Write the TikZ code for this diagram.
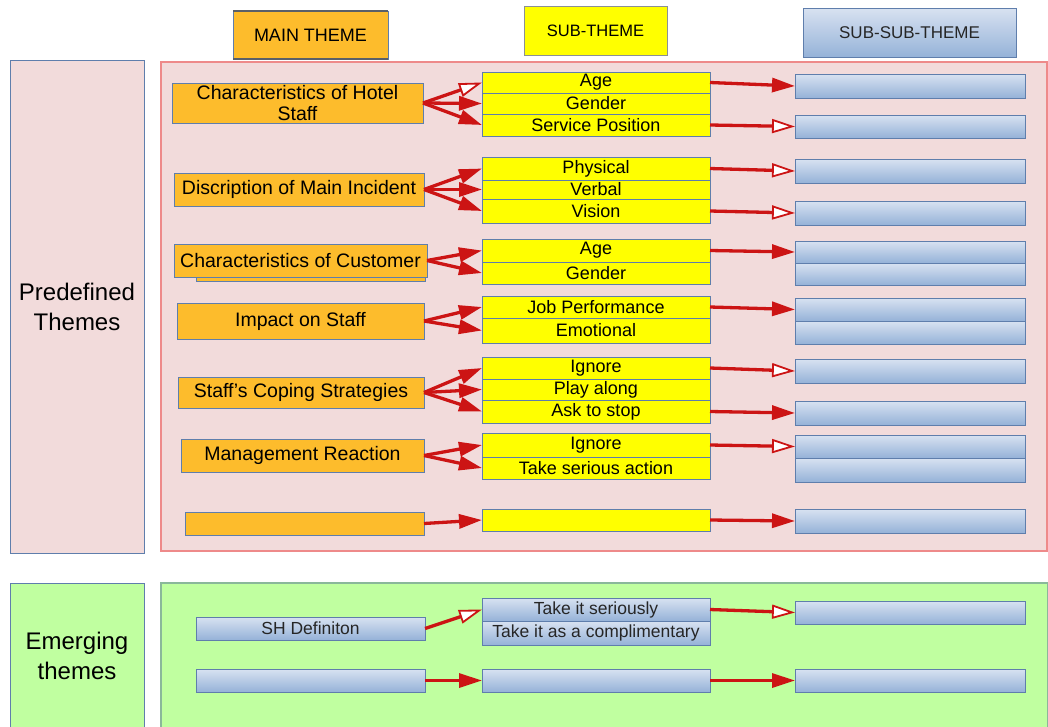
\documentclass[tikz,border=0pt]{standalone}
\usepackage{fontspec}
\setmainfont{Liberation Sans}
\usetikzlibrary{arrows.meta}

\definecolor{themeorange}{HTML}{FDBC2C}
\definecolor{themeyellow}{HTML}{FFFF00}
\definecolor{pinkbg}{HTML}{F2DBDB}
\definecolor{pinkedge}{HTML}{EE8A8A}
\definecolor{greenbg}{HTML}{C0FFA0}
\definecolor{greenedge}{HTML}{8AB89A}
\definecolor{edgeblue}{HTML}{5F7EAC}
\definecolor{blueTop}{HTML}{D8E2F1}
\definecolor{blueBot}{HTML}{95B2D8}
\definecolor{arrowred}{HTML}{CC1414}
\definecolor{hdrgray}{HTML}{5A6068}

\begin{document}
\begin{tikzpicture}[x=1pt,y=-1pt,
  every node/.style={inner sep=0pt, outer sep=0pt, align=center},
  panel/.style={draw=edgeblue, line width=1pt},
  mainbox/.style={fill=themeorange, draw=edgeblue, line width=1pt,
    font=\fontsize{19.5}{21}\selectfont},
  subbox/.style={fill=themeyellow, draw=edgeblue, line width=0.9pt,
    font=\fontsize{18}{20}\selectfont},
  bluebox/.style={top color=blueTop, bottom color=blueBot, draw=edgeblue,
    line width=1pt, font=\fontsize{17.5}{20}\selectfont, text=black!85},
  link/.style={draw=arrowred, line width=3.3pt,
    -{Triangle[length=23pt,width=14pt]}},
  openlink/.style={draw=arrowred, line width=3.3pt,
    -{Triangle[length=23pt,width=14pt,fill=white,line width=1.8pt]}}
]
\useasboundingbox (0,0) rectangle (1048,726);
\fill[white] (0,0) rectangle (1048,726);

% column headers
\node[fill=themeorange, draw=edgeblue, line width=1pt,
  minimum width=155, minimum height=48, font=\fontsize{18}{20}\selectfont]
  (hmain) at (310.5,35) {MAIN THEME};
\draw[hdrgray, line width=2pt] (hmain.north west) -- (hmain.north east)
  (hmain.south west) -- (hmain.south east);
\node[fill=themeyellow, draw=hdrgray!70, line width=1pt,
  minimum width=143, minimum height=49, font=\fontsize{16.5}{19}\selectfont]
  (hsub) at (595.5,30.5) {SUB-THEME};
\node[bluebox, minimum width=213, minimum height=49,
  font=\fontsize{17}{19}\selectfont]
  (hsubsub) at (909.5,32.5) {SUB-SUB-THEME};

% row panels
\node[panel, fill=pinkbg, minimum width=134, minimum height=493,
  font=\fontsize{24}{30}\selectfont] (pre) at (77,306.5) {Predefined\\Themes};
\node[panel, fill=greenbg, minimum width=134, minimum height=145,
  font=\fontsize{24}{30}\selectfont] (emg) at (77,655.5) {Emerging\\themes};
\node[fill=pinkbg, draw=pinkedge, line width=1.2pt,
  minimum width=886, minimum height=489] (prearea) at (604,306.5) {};
\node[fill=greenbg, draw=greenedge, line width=1.2pt,
  minimum width=887, minimum height=145] (emgarea) at (604.5,655.5) {};

% main themes
\node[mainbox, minimum width=251, minimum height=40] (m1) at (297.5,103)
  {Characteristics of Hotel\\Staff};
\node[mainbox, minimum width=250, minimum height=33] (m2) at (299,189.5)
  {Discription of Main Incident};
\node[mainbox, minimum width=229, minimum height=31] (m3b) at (310.5,265.5) {};
\node[mainbox, minimum width=253, minimum height=33] (m3) at (300.5,260.5)
  {Characteristics of Customer};
\node[mainbox, minimum width=247, minimum height=36] (m4) at (300.5,321)
  {Impact on Staff};
\node[mainbox, minimum width=246, minimum height=31] (m5) at (301,392.5)
  {Staff's Coping Strategies};
\node[mainbox, minimum width=243, minimum height=33] (m6) at (302.5,455.5)
  {Management Reaction};
\node[mainbox, minimum width=239, minimum height=23] (m7) at (304.5,523.5) {};

% sub-themes
\begin{scope}[every node/.append style={subbox, minimum width=228}]
\node[minimum height=21] (a1) at (596,82.5) {Age};
\node[minimum height=21] (a2) at (596,103.5) {Gender};
\node[minimum height=22] (a3) at (596,125) {Service Position};
\node[minimum height=23] (b1) at (596,168.5) {Physical};
\node[minimum height=19] (b2) at (596,189.5) {Verbal};
\node[minimum height=24] (b3) at (596,211) {Vision};
\node[minimum height=23] (c1) at (596,250.5) {Age};
\node[minimum height=22] (c2) at (596,273) {Gender};
\node[minimum height=22] (d1) at (596,307) {Job Performance};
\node[minimum height=25] (d2) at (596,330.5) {Emotional};
\node[minimum height=22] (e1) at (596,368) {Ignore};
\node[minimum height=21] (e2) at (596,389.5) {Play along};
\node[minimum height=23] (e3) at (596,411.5) {Ask to stop};
\node[minimum height=24] (f1) at (596,445) {Ignore};
\node[minimum height=22] (f2) at (596,468) {Take serious action};
\node[minimum height=22] (g1) at (596,520) {};
\end{scope}

% sub-sub-themes
\begin{scope}[every node/.append style={bluebox, minimum width=230}]
\node[minimum height=24] (s1) at (910,86) {};
\node[minimum height=23] (s2) at (910,126.5) {};
\node[minimum height=24] (s3) at (910,171) {};
\node[minimum height=24] (s4) at (910,213) {};
\node[minimum height=22] (s5) at (910,252) {};
\node[minimum height=22] (s6) at (910,274) {};
\node[minimum height=23] (s7) at (910,309.5) {};
\node[minimum height=23] (s8) at (910,332.5) {};
\node[minimum height=24] (s9) at (910,371) {};
\node[minimum height=24] (s10) at (910,413) {};
\node[minimum height=23] (s11) at (910,446.5) {};
\node[minimum height=24] (s12) at (910,470) {};
\node[minimum height=24] (s13) at (910,521) {};
\node[minimum height=23] (t1) at (910,612.5) {};
\node[minimum height=23] (t2) at (910,680.5) {};
\end{scope}

% emerging themes
\node[bluebox, minimum width=229, minimum height=23] (sh) at (310.5,628.5) {SH Definiton};
\node[bluebox, minimum width=229, minimum height=23] (em2) at (310.5,680.5) {};
\node[bluebox, minimum width=228, minimum height=23] (es1) at (596,609.5) {Take it seriously};
\node[bluebox, minimum width=228, minimum height=24] (es2) at (596,633) {Take it as a complimentary};
\node[bluebox, minimum width=228, minimum height=23] (es3) at (596,680.5) {};

% connectors: main theme -> sub-theme
\draw[openlink] (m1.east) -- (a1.west);
\draw[link] (m1.east) -- (a2.west);
\draw[link] (m1.east) -- (a3.west);
\draw[link] (m2.east) -- (b1.west);
\draw[link] (m2.east) -- (b2.west);
\draw[link] (m2.east) -- (b3.west);
\draw[link] (m3.east) -- (c1.west);
\draw[link] (m3.east) -- (c2.west);
\draw[link] (m4.east) -- (d1.west);
\draw[link] (m4.east) -- (d2.west);
\draw[link] (m5.east) -- (e1.west);
\draw[link] (m5.east) -- (e2.west);
\draw[link] (m5.east) -- (e3.west);
\draw[link] (m6.east) -- (f1.west);
\draw[link] (m6.east) -- (f2.west);
\draw[link] (m7.east) -- (g1.west);
\draw[openlink] (sh.east) -- (es1.west);
\draw[link] (em2.east) -- (es3.west);

% connectors: sub-theme -> sub-sub-theme
\draw[link] (a1.east) -- (s1.west);
\draw[openlink] (a3.east) -- (s2.west);
\draw[openlink] (b1.east) -- (s3.west);
\draw[openlink] (b3.east) -- (s4.west);
\draw[link] (c1.east) -- (s5.west);
\draw[link] (d1.east) -- (s7.west);
\draw[openlink] (e1.east) -- (s9.west);
\draw[link] (e3.east) -- (s10.west);
\draw[openlink] (f1.east) -- (s11.west);
\draw[link] (g1.east) -- (s13.west);
\draw[openlink] (es1.east) -- (t1.west);
\draw[link] (es3.east) -- (t2.west);
\end{tikzpicture}
\end{document}
